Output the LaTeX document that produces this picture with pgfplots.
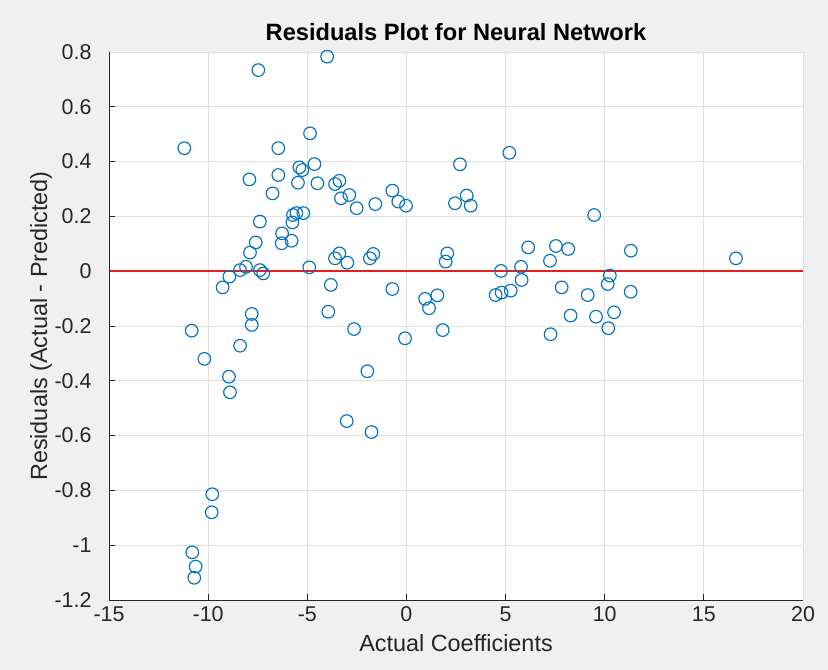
\documentclass[border=0pt]{standalone}
\usepackage{fontspec}
\setmainfont{Liberation Sans}
\usepackage{pgfplots}
\pgfplotsset{compat=1.18}
\definecolor{figbg}{RGB}{240,240,240}
\definecolor{mblue}{RGB}{0,114,189}
\definecolor{axdark}{RGB}{38,38,38}
\definecolor{gridc}{RGB}{223,223,223}
\definecolor{residred}{RGB}{230,30,30}
\begin{document}
\begin{tikzpicture}
% figure background and page extent
\fill[figbg] (-109bp,-70bp) rectangle (719bp,600bp);
\useasboundingbox (-109bp,-70bp) rectangle (719bp,600bp);
\begin{axis}[
  at={(0,0)}, anchor=south west,
  scale only axis,
  width=694bp, height=548bp,
  xmin=-15, xmax=20, ymin=-1.2, ymax=0.8,
  xtick={-15,-10,-5,0,5,10,15,20},
  ytick={-1.2,-1,-0.8,-0.6,-0.4,-0.2,0,0.2,0.4,0.6,0.8},
  /pgf/number format/assume math mode=true,
  axis background/.style={fill=white},
  axis line style={gridc, line width=0.8bp},
  xtick pos=left, ytick pos=left,
  tick align=inside,
  major tick length=6bp,
  tick style={axdark, line width=0.9bp},
  grid=major,
  major grid style={gridc, line width=0.8bp},
  tick label style={font=\fontsize{21.5}{24}\selectfont, text=axdark},
  xticklabel style={yshift=-3bp},
  yticklabel style={xshift=-14bp},
  xlabel={Actual Coefficients},
  ylabel={Residuals (Actual - Predicted)},
  label style={font=\fontsize{23.5}{26}\selectfont, text=axdark},
  xlabel style={at={(axis description cs:0.5,0)}, anchor=center, yshift=-43bp},
  ylabel style={at={(axis description cs:0,0.5)}, anchor=center, yshift=68bp},
  title={\textbf{Residuals Plot for Neural Network}},
  title style={at={(axis description cs:0.5,1)}, anchor=center, yshift=14bp,
    font=\fontsize{23.7}{26}\selectfont, text=black},
  clip=false,
]
% zero-residual reference line
\addplot[residred, line width=1.8bp, mark=none, forget plot] table {
x y
-15 0
20 0
};
\addplot[only marks, mark=o, mark size=6.3bp, color=mblue,
  mark options={line width=1.15bp}] table {
x y
-11.20 0.449
-10.83 -0.217
-10.80 -1.026
-10.70 -1.119
-10.63 -1.078
-10.19 -0.320
-9.82 -0.880
-9.79 -0.814
-9.27 -0.059
-8.95 -0.385
-8.93 -0.020
-8.90 -0.442
-8.39 0.004
-8.39 -0.272
-8.09 0.016
-7.92 0.335
-7.89 0.068
-7.80 -0.156
-7.80 -0.196
-7.60 0.105
-7.47 0.734
-7.39 0.181
-7.39 0.004
-7.22 -0.008
-6.75 0.284
-6.46 0.449
-6.46 0.351
-6.27 0.138
-6.29 0.102
-5.79 0.111
-5.75 0.178
-5.72 0.205
-5.55 0.212
-5.47 0.323
-5.40 0.379
-5.25 0.369
-5.20 0.212
-4.90 0.014
-4.86 0.503
-4.64 0.391
-4.49 0.321
-4.00 0.783
-3.94 -0.148
-3.81 -0.050
-3.60 0.318
-3.60 0.047
-3.38 0.330
-3.38 0.065
-3.30 0.266
-3.01 -0.547
-2.98 0.031
-2.88 0.278
-2.64 -0.211
-2.51 0.230
-1.97 -0.365
-1.84 0.047
-1.76 -0.587
-1.67 0.063
-1.57 0.245
-0.71 0.294
-0.71 -0.065
-0.41 0.254
-0.07 -0.245
-0.02 0.239
0.94 -0.101
1.14 -0.135
1.56 -0.088
1.83 -0.215
1.98 0.035
2.06 0.065
2.45 0.248
2.70 0.390
3.04 0.276
3.24 0.239
4.50 -0.087
4.77 0.001
4.80 -0.078
5.19 0.432
5.26 -0.071
5.78 0.016
5.81 -0.032
6.14 0.087
7.24 0.038
7.27 -0.230
7.54 0.092
7.83 -0.059
8.16 0.081
8.28 -0.162
9.14 -0.087
9.47 0.205
9.56 -0.166
10.15 -0.047
10.18 -0.208
10.26 -0.016
10.47 -0.150
11.31 -0.075
11.32 0.075
16.62 0.047
};
% dark left and bottom axis lines
\draw[axdark, line width=0.9bp] (rel axis cs:0,1) -- (rel axis cs:0,0) -- (rel axis cs:1,0);
\end{axis}
\end{tikzpicture}
\end{document}
